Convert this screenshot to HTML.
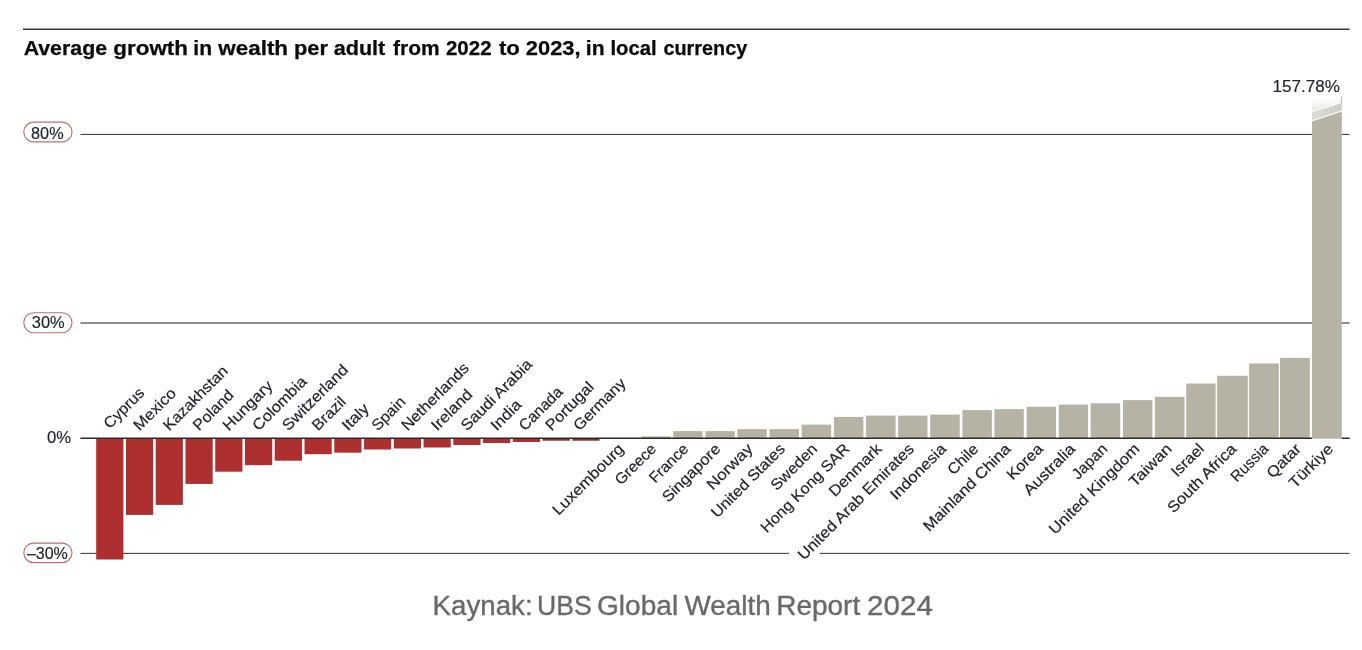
<!DOCTYPE html>
<html lang="en"><head><meta charset="utf-8"><title>Average growth in wealth per adult</title>
<style>
html,body{margin:0;padding:0;background:#fff;}
body{width:1362px;height:650px;overflow:hidden;position:relative;font-family:"Liberation Sans",sans-serif;}
svg{position:absolute;left:0;top:0;display:block}
svg text{font-family:"Liberation Sans",sans-serif;}
svg text.lb{stroke:#20242c;stroke-width:0.18px;}
svg text.tk{stroke:#20242c;stroke-width:0.15px;}
</style></head><body>
<svg width="1362" height="650" viewBox="0 0 1362 650">
<defs>
<linearGradient id="fade" gradientUnits="userSpaceOnUse" x1="0" y1="99.5" x2="0" y2="111.6"><stop offset="0" stop-color="#ffffff"/><stop offset="1" stop-color="#e4e4e2"/></linearGradient>
<linearGradient id="fade2" gradientUnits="userSpaceOnUse" x1="1312" y1="104" x2="1342" y2="120"><stop offset="0" stop-color="#dedddA"/><stop offset="1" stop-color="#cccac1"/></linearGradient>
</defs>
<rect x="23" y="28.55" width="1326.6" height="1.45" fill="#333"/>
<text y="55" font-size="20" font-weight="700" fill="#0a0a0a" stroke="#0a0a0a" stroke-width="0.25"><tspan x="23.67" textLength="83.37" lengthAdjust="spacingAndGlyphs">Average</tspan> <tspan x="113.36" textLength="74.63" lengthAdjust="spacingAndGlyphs">growth</tspan> <tspan x="193.38" textLength="18.76" lengthAdjust="spacingAndGlyphs">in</tspan> <tspan x="218.30" textLength="69.79" lengthAdjust="spacingAndGlyphs">wealth</tspan> <tspan x="293.94" textLength="33.97" lengthAdjust="spacingAndGlyphs">per</tspan> <tspan x="333.66" textLength="51.64" lengthAdjust="spacingAndGlyphs">adult</tspan> <tspan x="393.04" textLength="46.51" lengthAdjust="spacingAndGlyphs">from</tspan> <tspan x="445.93" textLength="45.63" lengthAdjust="spacingAndGlyphs">2022</tspan> <tspan x="498.92" textLength="20.98" lengthAdjust="spacingAndGlyphs">to</tspan> <tspan x="525.88" textLength="54.74" lengthAdjust="spacingAndGlyphs">2023,</tspan> <tspan x="585.88" textLength="18.76" lengthAdjust="spacingAndGlyphs">in</tspan> <tspan x="610.43" textLength="46.21" lengthAdjust="spacingAndGlyphs">local</tspan> <tspan x="663.46" textLength="83.79" lengthAdjust="spacingAndGlyphs">currency</tspan></text>
<rect x="80.4" y="133.9" width="1269.2" height="1.1" fill="#444"/>
<rect x="80.4" y="322.4" width="1269.2" height="1.2" fill="#444"/>
<rect x="80.4" y="552.85" width="1269.2" height="1.1" fill="#444"/>
<rect x="96.20" y="438.0" width="27.2" height="121.50" fill="#ae2f2f"/>
<rect x="125.96" y="438.0" width="27.2" height="76.90" fill="#ae2f2f"/>
<rect x="155.72" y="438.0" width="27.2" height="66.90" fill="#ae2f2f"/>
<rect x="185.48" y="438.0" width="27.2" height="45.90" fill="#ae2f2f"/>
<rect x="215.24" y="438.0" width="27.2" height="33.70" fill="#ae2f2f"/>
<rect x="245.00" y="438.0" width="27.2" height="27.20" fill="#ae2f2f"/>
<rect x="274.76" y="438.0" width="27.2" height="22.70" fill="#ae2f2f"/>
<rect x="304.52" y="438.0" width="27.2" height="16.20" fill="#ae2f2f"/>
<rect x="334.28" y="438.0" width="27.2" height="14.70" fill="#ae2f2f"/>
<rect x="364.04" y="438.0" width="27.2" height="11.50" fill="#ae2f2f"/>
<rect x="393.80" y="438.0" width="27.2" height="10.50" fill="#ae2f2f"/>
<rect x="423.56" y="438.0" width="27.2" height="9.50" fill="#ae2f2f"/>
<rect x="453.32" y="438.0" width="27.2" height="7.00" fill="#ae2f2f"/>
<rect x="483.08" y="438.0" width="27.2" height="5.00" fill="#ae2f2f"/>
<rect x="512.84" y="438.0" width="27.2" height="4.00" fill="#ae2f2f"/>
<rect x="542.60" y="438.0" width="27.2" height="2.70" fill="#9a2a2a"/>
<rect x="572.36" y="438.0" width="27.2" height="2.70" fill="#9a2a2a"/>
<rect x="641.2" y="436.3" width="29.50" height="1.70" fill="#b7b3a4"/>
<rect x="673.2" y="431.1" width="29.40" height="6.90" fill="#b7b3a4"/>
<rect x="705.4" y="431.1" width="29.40" height="6.90" fill="#b7b3a4"/>
<rect x="737.3" y="429.1" width="29.50" height="8.90" fill="#b7b3a4"/>
<rect x="769.5" y="429.1" width="29.50" height="8.90" fill="#b7b3a4"/>
<rect x="801.7" y="424.6" width="29.50" height="13.40" fill="#b7b3a4"/>
<rect x="833.9" y="416.9" width="29.50" height="21.10" fill="#b7b3a4"/>
<rect x="865.9" y="415.6" width="29.70" height="22.40" fill="#b7b3a4"/>
<rect x="898.1" y="415.6" width="29.40" height="22.40" fill="#b7b3a4"/>
<rect x="930.2" y="414.6" width="29.50" height="23.40" fill="#b7b3a4"/>
<rect x="962.4" y="410.1" width="29.50" height="27.90" fill="#b7b3a4"/>
<rect x="994.4" y="409.1" width="29.40" height="28.90" fill="#b7b3a4"/>
<rect x="1026.6" y="406.8" width="29.40" height="31.20" fill="#b7b3a4"/>
<rect x="1058.8" y="404.6" width="29.20" height="33.40" fill="#b7b3a4"/>
<rect x="1090.7" y="403.3" width="29.50" height="34.70" fill="#b7b3a4"/>
<rect x="1123" y="400.1" width="29.40" height="37.90" fill="#b7b3a4"/>
<rect x="1154.9" y="396.8" width="29.60" height="41.20" fill="#b7b3a4"/>
<rect x="1186.2" y="383.5" width="29.40" height="54.50" fill="#b7b3a4"/>
<rect x="1217.1" y="375.8" width="30.70" height="62.20" fill="#b7b3a4"/>
<rect x="1249.1" y="363.4" width="29.70" height="74.60" fill="#b7b3a4"/>
<rect x="1280" y="357.9" width="29.80" height="80.10" fill="#b7b3a4"/>
<polygon points="1312,120.8 1341.8,110.9 1341.8,438.7 1312,438.7" fill="#b7b3a4"/>
<polygon points="1312,111.6 1341.8,102.3 1341.8,110.9 1312,120.8" fill="url(#fade2)"/>
<polygon points="1312,99.5 1341.8,99.5 1341.8,102.3 1312,111.6" fill="url(#fade)"/>
<path d="M1312 111.6 L1341.8 102.3 M1312 120.8 L1341.8 110.9" stroke="#fff" stroke-width="1.3" fill="none" opacity="0.85"/>
<rect x="1341.1" y="96" width="0.7" height="7.5" fill="#555" opacity="0.55"/>
<rect x="80.4" y="437.5" width="1231.6" height="1.5" fill="#2a2a2a"/>
<rect x="1341.8" y="437.5" width="7.8" height="1.5" fill="#2a2a2a"/>
<rect x="23.8" y="122.10" width="48.2" height="19.80" rx="9.90" fill="#fff" stroke="#bd7070" stroke-width="1.1"/>
<text class="tk" transform="translate(31.10 138.6) scale(1.0416 1)" font-size="15.6" fill="#20242c">80%</text>
<rect x="23.8" y="312.80" width="48.2" height="20.00" rx="10.00" fill="#fff" stroke="#bd7070" stroke-width="1.1"/>
<text class="tk" transform="translate(31.86 327.7) scale(1.0526 1)" font-size="15.6" fill="#20242c">30%</text>
<rect x="23.8" y="543.10" width="48.2" height="19.50" rx="9.75" fill="#fff" stroke="#bd7070" stroke-width="1.1"/>
<text class="tk" transform="translate(26.90 558.6) scale(1.0266 1)" font-size="15.6" fill="#20242c">–30%</text>
<text class="tk" transform="translate(47.05 443.2) scale(1.0718 1)" font-size="15.6" fill="#20242c">0%</text>
<text class="tk" transform="translate(1272.56 91.8) scale(1.0694 1)" font-size="16" fill="#20242c">157.78%</text>
<rect x="789" y="551.5" width="30.6" height="4" fill="#fff"/>
<text transform="translate(109.80 429.5) rotate(-45)" class="lb" font-size="15.3" fill="#20242c" textLength="50.3" lengthAdjust="spacingAndGlyphs">Cyprus</text>
<text transform="translate(139.56 431.5) rotate(-45)" class="lb" font-size="15.3" fill="#20242c" textLength="52.9" lengthAdjust="spacingAndGlyphs">Mexico</text>
<text transform="translate(169.32 431.5) rotate(-45)" class="lb" font-size="15.3" fill="#20242c" textLength="84.1" lengthAdjust="spacingAndGlyphs">Kazakhstan</text>
<text transform="translate(199.08 431.5) rotate(-45)" class="lb" font-size="15.3" fill="#20242c" textLength="50.3" lengthAdjust="spacingAndGlyphs">Poland</text>
<text transform="translate(228.84 431.5) rotate(-45)" class="lb" font-size="15.3" fill="#20242c" textLength="63.3" lengthAdjust="spacingAndGlyphs">Hungary</text>
<text transform="translate(258.60 431.5) rotate(-45)" class="lb" font-size="15.3" fill="#20242c" textLength="69.3" lengthAdjust="spacingAndGlyphs">Colombia</text>
<text transform="translate(288.36 431.5) rotate(-45)" class="lb" font-size="15.3" fill="#20242c" textLength="85.8" lengthAdjust="spacingAndGlyphs">Switzerland</text>
<text transform="translate(318.12 431.5) rotate(-45)" class="lb" font-size="15.3" fill="#20242c" textLength="40.7" lengthAdjust="spacingAndGlyphs">Brazil</text>
<text transform="translate(347.88 431.5) rotate(-45)" class="lb" font-size="15.3" fill="#20242c" textLength="31.2" lengthAdjust="spacingAndGlyphs">Italy</text>
<text transform="translate(377.64 431.5) rotate(-45)" class="lb" font-size="15.3" fill="#20242c" textLength="40.7" lengthAdjust="spacingAndGlyphs">Spain</text>
<text transform="translate(407.40 431.5) rotate(-45)" class="lb" font-size="15.3" fill="#20242c" textLength="88.4" lengthAdjust="spacingAndGlyphs">Netherlands</text>
<text transform="translate(437.16 431.5) rotate(-45)" class="lb" font-size="15.3" fill="#20242c" textLength="51.2" lengthAdjust="spacingAndGlyphs">Ireland</text>
<text transform="translate(466.92 431.5) rotate(-45)" class="lb" font-size="15.3" fill="#20242c" textLength="93.6" lengthAdjust="spacingAndGlyphs">Saudi Arabia</text>
<text transform="translate(496.68 431.5) rotate(-45)" class="lb" font-size="15.3" fill="#20242c" textLength="36.4" lengthAdjust="spacingAndGlyphs">India</text>
<text transform="translate(524.94 431.5) rotate(-45)" class="lb" font-size="15.3" fill="#20242c" textLength="54.6" lengthAdjust="spacingAndGlyphs">Canada</text>
<text transform="translate(551.40 431.5) rotate(-45)" class="lb" font-size="15.3" fill="#20242c" textLength="61.5" lengthAdjust="spacingAndGlyphs">Portugal</text>
<text transform="translate(579.46 431.5) rotate(-45)" class="lb" font-size="15.3" fill="#20242c" textLength="66.8" lengthAdjust="spacingAndGlyphs">Germany</text>
<text transform="translate(624.76 449.8) rotate(-45)" class="lb" font-size="15.3" fill="#20242c" text-anchor="end" textLength="93.8" lengthAdjust="spacingAndGlyphs">Luxembourg</text>
<text transform="translate(657.00 449.8) rotate(-45)" class="lb" font-size="15.3" fill="#20242c" text-anchor="end" textLength="50.9" lengthAdjust="spacingAndGlyphs">Greece</text>
<text transform="translate(689.24 449.8) rotate(-45)" class="lb" font-size="15.3" fill="#20242c" text-anchor="end" textLength="48.2" lengthAdjust="spacingAndGlyphs">France</text>
<text transform="translate(721.48 449.8) rotate(-45)" class="lb" font-size="15.3" fill="#20242c" text-anchor="end" textLength="75.4" lengthAdjust="spacingAndGlyphs">Singapore</text>
<text transform="translate(753.72 449.8) rotate(-45)" class="lb" font-size="15.3" fill="#20242c" text-anchor="end" textLength="57.9" lengthAdjust="spacingAndGlyphs">Norway</text>
<text transform="translate(785.96 449.8) rotate(-45)" class="lb" font-size="15.3" fill="#20242c" text-anchor="end" textLength="97.3" lengthAdjust="spacingAndGlyphs">United States</text>
<text transform="translate(818.20 449.8) rotate(-45)" class="lb" font-size="15.3" fill="#20242c" text-anchor="end" textLength="58.7" lengthAdjust="spacingAndGlyphs">Sweden</text>
<text transform="translate(850.44 449.8) rotate(-45)" class="lb" font-size="15.3" fill="#20242c" text-anchor="end" textLength="118.3" lengthAdjust="spacingAndGlyphs">Hong Kong SAR</text>
<text transform="translate(882.68 449.8) rotate(-45)" class="lb" font-size="15.3" fill="#20242c" text-anchor="end" textLength="67.5" lengthAdjust="spacingAndGlyphs">Denmark</text>
<text transform="translate(914.92 449.8) rotate(-45)" class="lb" font-size="15.3" fill="#20242c" text-anchor="end" textLength="156.9" lengthAdjust="spacingAndGlyphs">United Arab Emirates</text>
<text transform="translate(947.16 449.8) rotate(-45)" class="lb" font-size="15.3" fill="#20242c" text-anchor="end" textLength="71.9" lengthAdjust="spacingAndGlyphs">Indonesia</text>
<text transform="translate(979.40 449.8) rotate(-45)" class="lb" font-size="15.3" fill="#20242c" text-anchor="end" textLength="36.8" lengthAdjust="spacingAndGlyphs">Chile</text>
<text transform="translate(1011.64 449.8) rotate(-45)" class="lb" font-size="15.3" fill="#20242c" text-anchor="end" textLength="116.6" lengthAdjust="spacingAndGlyphs">Mainland China</text>
<text transform="translate(1043.88 449.8) rotate(-45)" class="lb" font-size="15.3" fill="#20242c" text-anchor="end" textLength="43.9" lengthAdjust="spacingAndGlyphs">Korea</text>
<text transform="translate(1076.12 449.8) rotate(-45)" class="lb" font-size="15.3" fill="#20242c" text-anchor="end" textLength="65.8" lengthAdjust="spacingAndGlyphs">Australia</text>
<text transform="translate(1108.36 449.8) rotate(-45)" class="lb" font-size="15.3" fill="#20242c" text-anchor="end" textLength="43.0" lengthAdjust="spacingAndGlyphs">Japan</text>
<text transform="translate(1140.60 449.8) rotate(-45)" class="lb" font-size="15.3" fill="#20242c" text-anchor="end" textLength="121.0" lengthAdjust="spacingAndGlyphs">United Kingdom</text>
<text transform="translate(1172.84 449.8) rotate(-45)" class="lb" font-size="15.3" fill="#20242c" text-anchor="end" textLength="53.5" lengthAdjust="spacingAndGlyphs">Taiwan</text>
<text transform="translate(1205.08 449.8) rotate(-45)" class="lb" font-size="15.3" fill="#20242c" text-anchor="end" textLength="39.5" lengthAdjust="spacingAndGlyphs">Israel</text>
<text transform="translate(1237.32 449.8) rotate(-45)" class="lb" font-size="15.3" fill="#20242c" text-anchor="end" textLength="90.3" lengthAdjust="spacingAndGlyphs">South Africa</text>
<text transform="translate(1269.56 449.8) rotate(-45)" class="lb" font-size="15.3" fill="#20242c" text-anchor="end" textLength="46.5" lengthAdjust="spacingAndGlyphs">Russia</text>
<text transform="translate(1301.80 449.8) rotate(-45)" class="lb" font-size="15.3" fill="#20242c" text-anchor="end" textLength="41.2" lengthAdjust="spacingAndGlyphs">Qatar</text>
<text transform="translate(1334.04 449.8) rotate(-45)" class="lb" font-size="15.3" fill="#20242c" text-anchor="end" textLength="55.3" lengthAdjust="spacingAndGlyphs">Türkiye</text>
<text y="614.7" font-size="27" fill="#696969" stroke="#696969" stroke-width="0.35"><tspan x="432.59" textLength="100.03" lengthAdjust="spacingAndGlyphs">Kaynak:</tspan> <tspan x="537.03" textLength="54.61" lengthAdjust="spacingAndGlyphs">UBS</tspan> <tspan x="597.00" textLength="81.17" lengthAdjust="spacingAndGlyphs">Global</tspan> <tspan x="684.44" textLength="86.21" lengthAdjust="spacingAndGlyphs">Wealth</tspan> <tspan x="776.17" textLength="84.07" lengthAdjust="spacingAndGlyphs">Report</tspan> <tspan x="867.13" textLength="65.76" lengthAdjust="spacingAndGlyphs">2024</tspan></text>
</svg>
</body></html>
